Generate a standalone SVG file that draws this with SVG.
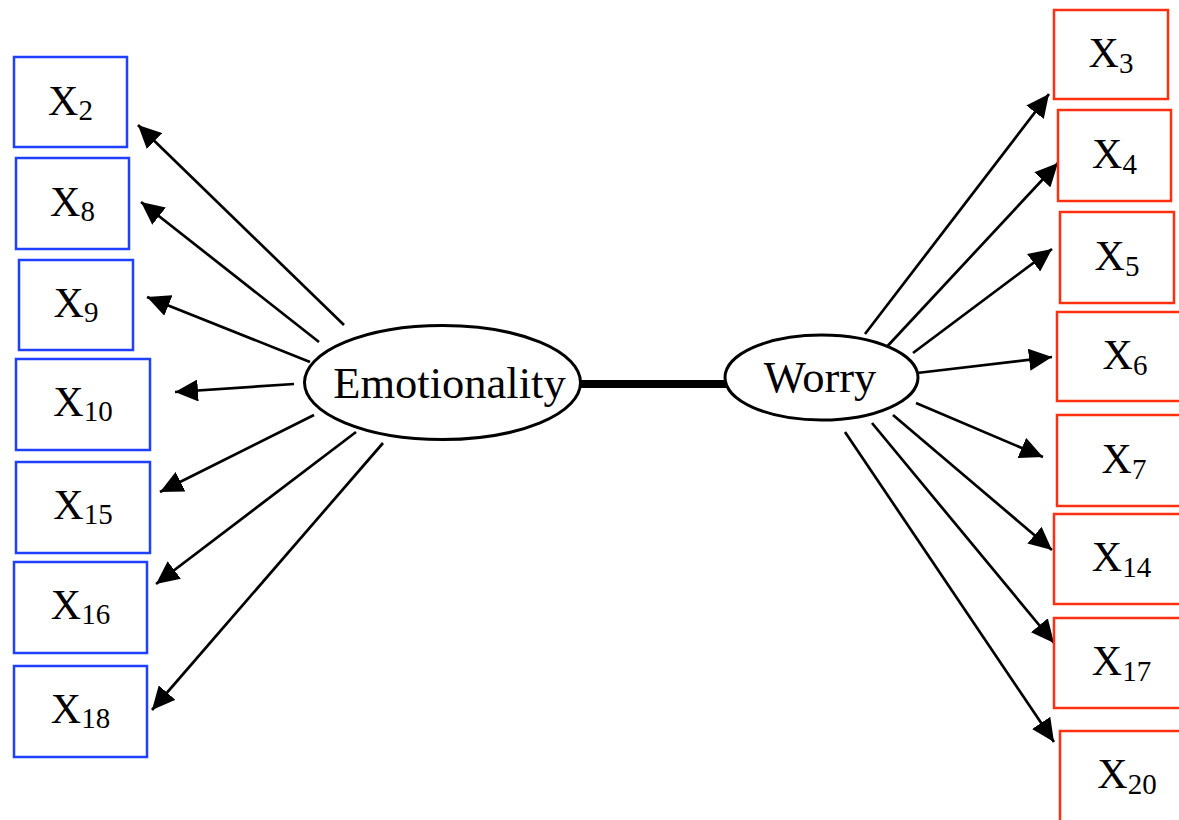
<svg xmlns="http://www.w3.org/2000/svg" width="1179" height="820" viewBox="0 0 1179 820">
  <style>
    .bg { fill: #ffffff; }
    .emo rect { fill: none; stroke: #2040ff; stroke-width: 2.5; }
    .wor rect { fill: none; stroke: #ff3010; stroke-width: 2.5; }
    .lbl { font-family: "Liberation Serif", "Times New Roman", serif; font-size: 42px; fill: #000; text-anchor: middle; }
    .sub { font-size: 29px; }
    .factor ellipse { fill: #fff; stroke: #000; stroke-width: 3; }
    .factor text { font-family: "Liberation Serif", "Times New Roman", serif; font-size: 44.5px; fill: #000; text-anchor: middle; }
    .load { stroke: #000; stroke-width: 2.7; fill: none; marker-end: url(#head); }
    .corr { stroke: #000; stroke-width: 8; }
  </style>
  <defs>
    <marker id="head" markerUnits="userSpaceOnUse" viewBox="0 -11 23 22" refX="23" refY="0" markerWidth="23" markerHeight="22" orient="auto">
      <path d="M0,-11 L23,0 L0,11 z" fill="#000"/>
    </marker>
  </defs>
  <rect class="bg" x="0" y="0" width="1179" height="820"/>

  <!-- connectors: loadings and factor correlation -->
  <g id="connectors">
    <line class="corr" x1="579" y1="384" x2="727" y2="384"/>
    <!-- Emotionality loadings -->
    <line class="load" x1="344" y1="325" x2="138" y2="125"/>
    <line class="load" x1="319" y1="342" x2="141" y2="202"/>
    <line class="load" x1="310" y1="362" x2="147" y2="297"/>
    <line class="load" x1="294" y1="384" x2="175" y2="392"/>
    <line class="load" x1="314" y1="415" x2="160" y2="492"/>
    <line class="load" x1="356" y1="432" x2="156" y2="584"/>
    <line class="load" x1="383" y1="443" x2="152" y2="710"/>
    <!-- Worry loadings -->
    <line class="load" x1="865" y1="334" x2="1049" y2="94"/>
    <line class="load" x1="882" y1="352" x2="1058" y2="163"/>
    <line class="load" x1="913" y1="353" x2="1052" y2="249"/>
    <line class="load" x1="917" y1="373" x2="1052" y2="357"/>
    <line class="load" x1="916" y1="403" x2="1043" y2="457"/>
    <line class="load" x1="893" y1="415" x2="1052" y2="550"/>
    <line class="load" x1="872" y1="423" x2="1054" y2="643"/>
    <line class="load" x1="845" y1="432" x2="1054" y2="742"/>
  </g>

  <!-- latent factors -->
  <g id="emotionality" class="factor">
    <ellipse cx="442.5" cy="382.5" rx="138" ry="57"/>
    <text x="449.5" y="398">Emotionality</text>
  </g>
  <g id="worry" class="factor">
    <ellipse cx="821.5" cy="377.5" rx="96.5" ry="42.5"/>
    <text x="820" y="392">Worry</text>
  </g>

  <!-- Emotionality indicators -->
  <g id="x2" class="emo"><rect x="14" y="57" width="113" height="90"/><text class="lbl" x="70.5" y="115">X<tspan class="sub" dy="5">2</tspan></text></g>
  <g id="x8" class="emo"><rect x="16" y="158" width="113" height="91"/><text class="lbl" x="72.5" y="216">X<tspan class="sub" dy="5">8</tspan></text></g>
  <g id="x9" class="emo"><rect x="19" y="260" width="114" height="90"/><text class="lbl" x="76" y="317">X<tspan class="sub" dy="5">9</tspan></text></g>
  <g id="x10" class="emo"><rect x="16" y="359" width="134" height="91"/><text class="lbl" x="83" y="416">X<tspan class="sub" dy="5">10</tspan></text></g>
  <g id="x15" class="emo"><rect x="16" y="462" width="134" height="91"/><text class="lbl" x="83" y="519">X<tspan class="sub" dy="5">15</tspan></text></g>
  <g id="x16" class="emo"><rect x="14" y="562" width="133" height="91"/><text class="lbl" x="80.5" y="619">X<tspan class="sub" dy="5">16</tspan></text></g>
  <g id="x18" class="emo"><rect x="14" y="666" width="133" height="91"/><text class="lbl" x="80.5" y="723">X<tspan class="sub" dy="5">18</tspan></text></g>

  <!-- Worry indicators -->
  <g id="x3" class="wor"><rect x="1054" y="10" width="114" height="89"/><text class="lbl" x="1111" y="67">X<tspan class="sub" dy="6">3</tspan></text></g>
  <g id="x4" class="wor"><rect x="1058" y="110" width="113" height="91"/><text class="lbl" x="1114.5" y="168">X<tspan class="sub" dy="6">4</tspan></text></g>
  <g id="x5" class="wor"><rect x="1060" y="212" width="114" height="91"/><text class="lbl" x="1117" y="270">X<tspan class="sub" dy="6">5</tspan></text></g>
  <g id="x6" class="wor"><rect x="1057" y="312" width="136" height="89"/><text class="lbl" x="1125" y="369">X<tspan class="sub" dy="6">6</tspan></text></g>
  <g id="x7" class="wor"><rect x="1057" y="415" width="134" height="91"/><text class="lbl" x="1124" y="473">X<tspan class="sub" dy="6">7</tspan></text></g>
  <g id="x14" class="wor"><rect x="1054" y="514" width="135" height="90"/><text class="lbl" x="1121.5" y="571">X<tspan class="sub" dy="6">14</tspan></text></g>
  <g id="x17" class="wor"><rect x="1054" y="618" width="135" height="90"/><text class="lbl" x="1121.5" y="675">X<tspan class="sub" dy="6">17</tspan></text></g>
  <g id="x20" class="wor"><rect x="1060" y="731" width="134" height="100"/><text class="lbl" x="1127" y="788">X<tspan class="sub" dy="6">20</tspan></text></g>
</svg>
